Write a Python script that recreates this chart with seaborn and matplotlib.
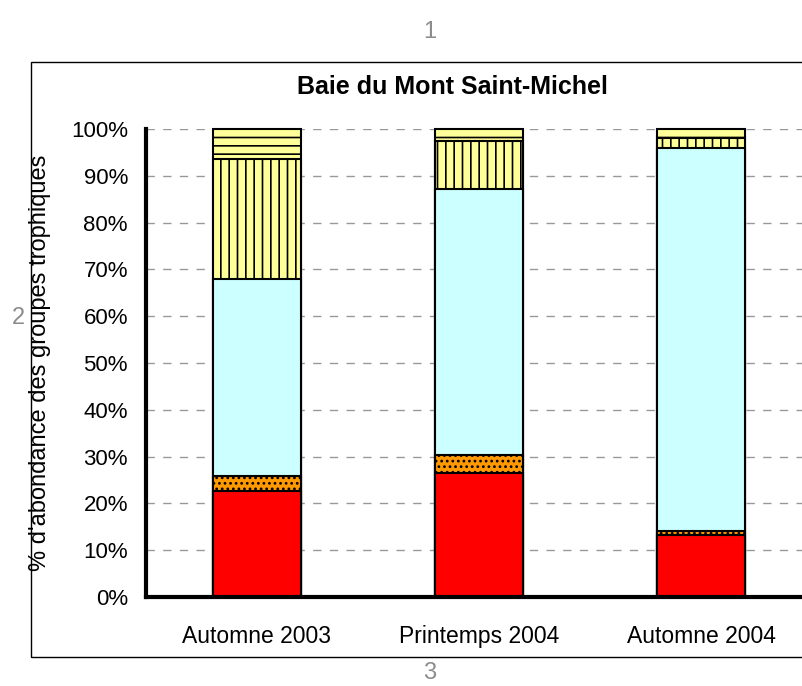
import numpy as np
import pandas as pd
import matplotlib
matplotlib.use("Agg")
import matplotlib.pyplot as plt
import seaborn as sns
from matplotlib.patches import Rectangle

# campaigns (x categories)
saisons = ["Automne 2003", "Printemps 2004", "Automne 2004"]

# % abundance of each trophic group, bottom -> top
groupe_rouge = [22.7, 26.5, 13.2]
groupe_orange = [3.1, 3.9, 1.0]
groupe_cyan = [42.2, 56.7, 81.8]
groupe_rayures = [25.6, 10.4, 2.0]
groupe_tirets = [6.4, 2.5, 2.0]

couches = [groupe_rouge, groupe_orange, groupe_cyan, groupe_rayures, groupe_tirets]
couleurs = ["#FF0000", "#FF9900", "#CCFFFF", "#FFFF99", "#FFFF99"]
hachures = ["", "...", "", "||", "--"]

yticks = np.arange(0, 101, 10)

sns.set_style("white")
plt.rcParams["font.family"] = ["Liberation Sans", "DejaVu Sans"]
plt.rcParams["hatch.linewidth"] = 1.2
plt.rcParams["text.color"] = "black"
plt.rcParams["axes.labelcolor"] = "black"
plt.rcParams["xtick.color"] = "black"
plt.rcParams["ytick.color"] = "black"

fig = plt.figure(figsize=(8.03, 6.86), dpi=100)
ax = fig.add_axes([146 / 803, 89 / 686, 666 / 803, 468 / 686])

# cumulative totals, drawn from the top layer down so lower layers cover upper ones
cumul = np.cumsum(np.array(couches), axis=0)
for i in range(len(couches) - 1, -1, -1):
    df = pd.DataFrame({"saison": saisons, "cumul": cumul[i]})
    sns.barplot(data=df, x="saison", y="cumul", order=saisons, color=couleurs[i],
                width=0.4, edgecolor="black", linewidth=1.5, hatch=hachures[i],
                saturation=1, errorbar=None, ax=ax, zorder=3, clip_on=False)

ax.set_xlim(-0.5, 2.5)
ax.set_ylim(0, 100)
ax.set_yticks(yticks)
ax.set_yticklabels([f"{v}%" for v in yticks], fontsize=16)
ax.set_xticks([-0.5, 0.5, 1.5, 2.5], minor=False)
ax.set_xticklabels([])
ax.set_xticks([0, 1, 2], minor=True)
ax.set_xticklabels(saisons, minor=True, fontsize=16.5)
ax.tick_params(axis="x", which="major", direction="out", length=8, width=3, color="black")
ax.tick_params(axis="x", which="minor", length=0, pad=20)
ax.tick_params(axis="y", direction="out", length=5, width=3, color="black", pad=8)

ax.grid(False)
ax.yaxis.grid(True, linestyle=(0, (6, 6)), color="#999999", linewidth=1)
ax.set_axisbelow(True)

for side in ["top", "right"]:
    ax.spines[side].set_visible(False)
for side in ["left", "bottom"]:
    ax.spines[side].set_linewidth(3)
    ax.spines[side].set_color("black")
    ax.spines[side].set_zorder(5)

ax.set_xlabel("")
ax.set_ylabel("% d'abondance des groupes trophiques", fontsize=17)
ax.yaxis.set_label_coords(-0.143, 0.5)

fig.text(452 / 803, 1 - 87 / 686, "Baie du Mont Saint-Michel", ha="center", va="center",
         fontsize=18, fontweight="bold")

# outer chart frame
fig.patches.append(Rectangle((31 / 803, 29 / 686), 1.2, 595 / 686, transform=fig.transFigure,
                             fill=False, edgecolor="black", linewidth=1))

# gray markers around the frame
for x, y, t in [(430, 32, "1"), (18, 318, "2"), (430, 673, "3")]:
    fig.text(x / 803, 1 - y / 686, t, ha="center", va="center", fontsize=17, color="#8c8c8c")

fig.savefig("out.png", dpi=100)
